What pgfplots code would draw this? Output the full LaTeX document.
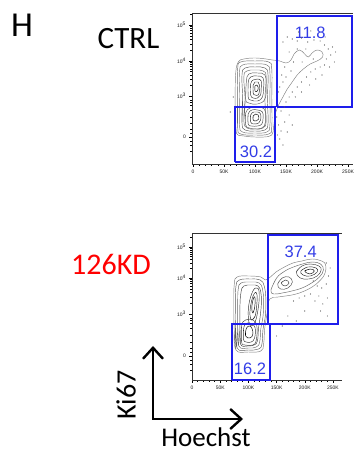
\documentclass[border=0pt]{standalone}
\usepackage{fontspec}
\setmainfont{Carlito}
\newfontfamily\arial{Liberation Sans}
\usepackage{pgfplots}
\pgfplotsset{compat=1.18}
\usetikzlibrary{arrows.meta}
\definecolor{gateblue}{RGB}{30,30,235}
\definecolor{numblue}{RGB}{50,60,230}
\tikzset{gatenum/.style={font=\arial\fontsize{16.5}{18}\selectfont, text=numblue}}
\pgfplotsset{
 flowax/.style={
  scale only axis, clip=false, separate axis lines,
  axis x line=box, axis y line=left,
  x axis line style={-}, y axis line style={-},
  axis line style={black!80, line width=0.55pt},
  xtick pos=left, ytick pos=left,
  tick align=outside,
  major tick length=3pt, minor tick length=1.7pt,
  every tick/.style={black, line width=0.55pt},
  tick label style={font=\arial\fontsize{5}{6}\selectfont, text=black!90},
  xtick={0,50,100,150,200,250},
  xticklabels={0,50K,100K,150K,200K,250K},
  minor xtick={10,20,30,40,60,70,80,90,110,120,130,140,160,170,180,190,210,220,230,240},
  xticklabel style={yshift=0.5pt},
  yticklabel style={xshift=0.5pt},
 },
 cont/.style={line width=0.45pt, smooth, tension=0.7, no marks},
 gate/.style={gateblue, line width=1.7pt, sharp plot, no marks},
 dots/.style={only marks, mark=*, mark size=0.3pt, black!60},
}
\begin{document}
\begin{tikzpicture}
\path[use as bounding box] (0pt,0pt) rectangle (354pt,454pt);

% ---------------- CTRL ----------------
\begin{axis}[flowax, at={(192pt,290pt)}, anchor=south west,
  width=161pt, height=151pt, xmin=-1.6, xmax=258, ymin=-27, ymax=124,
  ytick={0,41,76,112},
  yticklabels={0,10\textsuperscript{3},10\textsuperscript{4},10\textsuperscript{5}},
  minor ytick={-14,-8,-4,4,8,14,20,27,31.5,34.5,37,51.5,57.7,62.1,65.5,68.2,70.6,72.6,74.4,86.8,93.2,97.7,101.2,104,106.4,108.5,110.3,122.8}]
% outer contour with tail
\addplot[cont, black!50] coordinates {(70,4) (68,20) (68,45) (69,65) (73,75) (82,78) (100,79) (118,78) (128,77) (140,76) (150,74) (158,77) (163,83) (172,87) (180,83) (186,80) (192,84) (200,87) (208,85) (209,80) (200,76) (189,73) (178,68) (168,62) (160,55) (152,48) (145,40) (138,32) (133,24) (130,10) (127,2) (115,0) (100,0) (82,1) (70,4) (68,20)};
\addplot[cont, black!60] coordinates {(72,10) (72,40) (72,68) (77,75) (100,76) (122,75) (127,68) (127,40) (127,10) (122,3) (100,2) (77,3) (72,10) (72,40)};
\addplot[cont, black!55] coordinates {(75,12) (75,40) (75,65) (80,72) (100,73) (119,72) (124,65) (124,40) (124,12) (119,5) (100,4) (80,5) (75,12) (75,40)};
\addplot[cont, black!65] coordinates {(79,14) (80,38) (79,62) (84,69) (100,70) (116,69) (121,62) (120,38) (121,14) (116,7) (100,6) (84,7) (79,14) (80,38)};
\addplot[cont, black!60] coordinates {(82,16) (84,37) (82,60) (87,66) (100,67) (113,66) (118,60) (116,37) (118,16) (113,9) (100,8) (87,9) (82,16) (84,37)};
% upper lobe
\addplot[cont, black!65] coordinates {(85,38) (86,55) (90,63) (104,64) (116,62) (118,52) (116,38) (104,33) (90,34) (85,38) (86,55)};
\addplot[cont, black!75] coordinates {(89,40) (89,54) (93,60) (104,61) (113,59) (114,50) (112,40) (104,36) (93,37) (89,40) (89,54)};
\addplot[cont, black!80] coordinates {(93,42) (93,53) (97,57) (104,58) (110,56) (110,49) (109,42) (104,39) (97,39) (93,42) (93,53)};
\addplot[cont, black!85] coordinates {(97,44) (97,52) (100,55) (105,55) (107,52) (107,46) (105,42) (100,42) (97,44) (97,52)};
\addplot[cont, black] coordinates {(100,46) (100,51) (103,52) (105,50) (104,46) (100,46) (100,51)};
% lower lobe
\addplot[cont, black!65] coordinates {(85,12) (85,24) (92,29) (104,30) (115,28) (117,20) (115,11) (104,8) (91,9) (85,12) (85,24)};
\addplot[cont, black!75] coordinates {(89,13) (89,23) (95,27) (104,27) (112,25) (113,19) (111,13) (104,11) (94,11) (89,13) (89,23)};
\addplot[cont, black!80] coordinates {(93,15) (93,22) (98,25) (104,25) (109,23) (109,17) (106,14) (98,13) (93,15) (93,22)};
\addplot[cont, black] coordinates {(97,17) (97,21) (101,23) (105,22) (106,18) (102,16) (97,17) (97,21)};
% scattered events
\addplot[dots] coordinates {(145,95) (152,100) (160,98) (168,96) (175,99) (185,95) (195,97) (205,96) (212,92) (218,88) (222,82) (215,78) (212,72) (205,70) (197,68) (190,65) (183,60) (175,55) (168,50) (160,45) (155,40) (150,35) (147,30) (142,26) (158,66) (150,60) (145,55) (140,50) (165,40) (175,45) (188,52) (198,58) (208,62) (220,70) (228,75) (225,90) (170,105) (190,106) (155,85) (148,70) (162,75) (176,75) (138,45) (143,62) (213,100) (230,85) (182,88) (194,78) (168,88) (135,20) (138,12) (142,6) (140,-2) (148,15) (152,5) (136,2) (145,-8) (155,22) (160,12) (65,40) (60,25)};
% gates
\addplot[gate] coordinates {(135.5,30) (256.5,30) (256.5,121) (135.5,121) (135.5,30)};
\addplot[gate] coordinates {(67.7,-24.7) (132,-24.7) (132,30) (67.7,30) (67.7,-24.7)};
\node[gatenum] at (axis cs:189,104) {11.8};
\node[gatenum] at (axis cs:101.6,-15) {30.2};
\end{axis}

% ---------------- 126KD ----------------
\begin{axis}[flowax, at={(192pt,74pt)}, anchor=south west,
  width=150pt, height=147pt, xmin=0, xmax=266, ymin=-24, ymax=123,
  ytick={0,42,78,109},
  yticklabels={0,10\textsuperscript{3},10\textsuperscript{4},10\textsuperscript{5}},
  minor ytick={-14,-8,-4,4,8,14,21,28,32.5,35.5,38,52.8,59.2,63.7,67.2,70,72.4,74.5,76.3,87.3,92.8,96.7,99.7,102.1,104.2,106,107.6,118.3}]
% outer contour with tail
\addplot[cont, black!50] coordinates {(78,6) (75,25) (74,50) (75,72) (80,79) (100,80) (122,79) (130,76) (139,79) (149,84) (164,89) (179,93) (195,95) (213,97) (230,95) (237,91) (236,83) (228,76) (213,69) (195,64) (177,61) (153,59) (138,57) (134,45) (129,28) (127,12) (122,5) (100,4) (78,6) (75,25)};
\addplot[cont, black!65] coordinates {(80,8) (77,30) (77,52) (78,70) (84,76) (104,77) (121,76) (128,70) (131,57) (130,40) (126,27) (124,12) (118,7) (100,6) (80,8) (77,30)};
\addplot[cont, black!60] coordinates {(83,10) (81,30) (81,52) (82,67) (87,73) (105,74) (119,73) (125,67) (127,55) (126,40) (122,27) (120,14) (114,9) (100,8) (83,10) (81,30)};
\addplot[cont, black!75] coordinates {(86,12) (85,30) (85,50) (87,64) (92,70) (106,71) (117,70) (122,64) (123,53) (121,40) (118,28) (116,15) (110,11) (98,10) (86,12) (85,30)};
% tilted upper lobe
\addplot[cont, black!80] coordinates {(104,30) (112,34) (118,50) (119,64) (115,68) (108,65) (101,52) (100,38) (104,30) (112,34)};
\addplot[cont, black!85] coordinates {(106,36) (112,40) (115,52) (115,62) (111,63) (106,56) (103,46) (103,40) (106,36) (112,40)};
\addplot[cont, black] coordinates {(108,43) (111,48) (112,57) (110,59) (107,53) (106,47) (108,43) (111,48)};
% lower lobe
\addplot[cont, black!75] coordinates {(88,14) (88,30) (95,36) (108,36) (115,30) (114,16) (108,11) (94,11) (88,14) (88,30)};
\addplot[cont, black!80] coordinates {(91,17) (92,29) (98,33) (106,32) (112,28) (111,18) (105,14) (96,14) (91,17) (92,29)};
\addplot[cont, black] coordinates {(95,20) (96,27) (101,30) (106,28) (108,22) (103,18) (95,20) (96,27)};
% tail contours
\addplot[cont, black!60] coordinates {(140,66) (150,78) (165,85) (180,89) (196,92) (213,94) (228,92) (233,86) (226,79) (212,73) (195,68) (177,65) (160,63) (145,62) (140,66) (150,78)};
\addplot[cont, black!75] coordinates {(185,84) (195,90) (210,92) (225,90) (229,86) (222,80) (207,77) (192,78) (185,84) (195,90)};
\addplot[cont, black!85] coordinates {(193,85) (205,89) (220,88) (222,84) (210,80) (197,81) (193,85) (205,89)};
\addplot[cont, black] coordinates {(200,85) (210,87) (217,85) (209,82) (200,85) (210,87)};
\addplot[cont, black!70] coordinates {(152,72) (160,78) (172,79) (178,74) (170,68) (157,67) (152,72) (160,78)};
\addplot[cont, black!80] coordinates {(158,73) (166,76) (172,73) (165,70) (158,73) (166,76)};
% scattered events
\addplot[dots] coordinates {(215,75) (222,70) (230,68) (238,72) (242,80) (225,60) (218,55) (232,52) (240,58) (228,45) (210,62) (200,60) (190,58) (180,55) (245,88) (170,40) (185,35) (150,20) (160,30) (200,45) (240,40) (238,93)};
% gates
\addplot[gate] coordinates {(134.8,32) (259,32) (259,121) (134.8,121) (134.8,32)};
\addplot[gate] coordinates {(71,-24) (138,-24) (138,32) (71,32) (71,-24)};
\node[gatenum] at (axis cs:192.7,104.3) {37.4};
\node[gatenum] at (axis cs:102.8,-13) {16.2};
\end{axis}

% ---------------- labels ----------------
\node[font=\fontsize{35}{40}\selectfont] at (22pt,429pt) {H};
\node[font=\fontsize{31}{36}\selectfont] at (128.5pt,415.7pt) {CTRL};
\node[font=\fontsize{30}{34}\selectfont, text=red] at (111pt,190pt) {126KD};
\node[font=\fontsize{28}{32}\selectfont, rotate=90] at (126pt,59pt) {Ki67};
\node[font=\fontsize{27}{31}\selectfont, inner sep=0pt] at (206pt,16.5pt) {Hoechst};
\draw[line width=2.4pt, {Straight Barb[length=11pt,width=20pt]}-{Straight Barb[length=11pt,width=20pt]}]
  (153pt,108pt) -- (153pt,35pt) -- (243pt,35pt);
\end{tikzpicture}
\end{document}
